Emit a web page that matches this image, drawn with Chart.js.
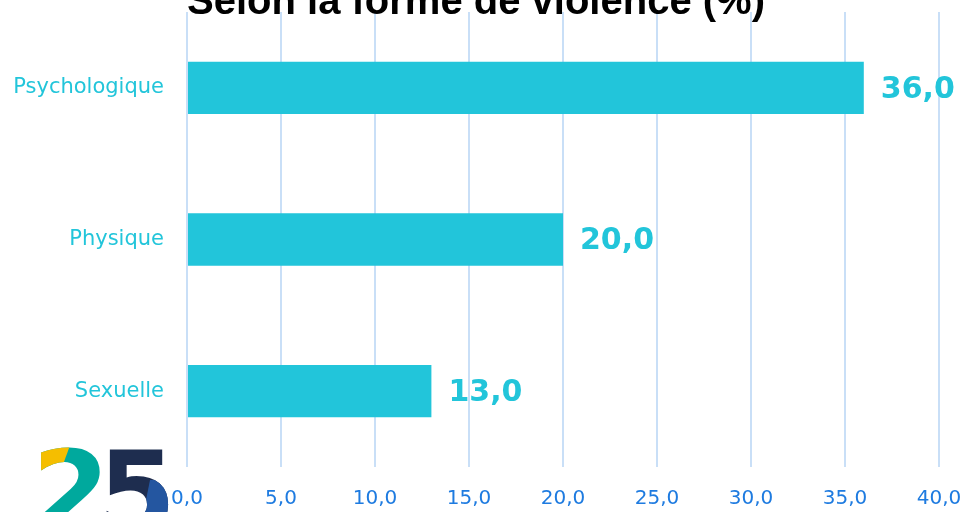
<!DOCTYPE html>
<html>
<head>
<meta charset="utf-8">
<script src="https://cdn.jsdelivr.net/npm/chart.js@4.4.1/dist/chart.umd.min.js"></script>
<style>
  html, body { margin: 0; padding: 0; background: #fff; overflow: hidden; }
  #wrap { width: 1000px; height: 530px; }
</style>
</head>
<body>
<div id="wrap"><canvas id="chart" width="1000" height="530"></canvas></div>
<script>
// données
const categories = ['Psychologique', 'Physique', 'Sexuelle'];
const values = [36.0, 20.0, 13.0];
const xTicks = [0, 5, 10, 15, 20, 25, 30, 35, 40];
const titleText = 'Selon la forme de violence (%)';

const cyan = '#22C5DA';
const tickBlue = '#1E7BE0';
const gridBlue = '#C9DFF7';

const fmt = v => v.toFixed(1).replace('.', ',');

// titre coupé en haut
const titlePlugin = {
  id: 'titre',
  afterDraw(chart) {
    const ctx = chart.ctx;
    ctx.save();
    ctx.font = 'bold 40px "Liberation Sans"';
    ctx.fillStyle = '#000';
    ctx.textAlign = 'center';
    ctx.textBaseline = 'alphabetic';
    ctx.fillText(titleText, 476, 14);
    ctx.restore();
  }
};

// étiquettes de valeurs
const labelsPlugin = {
  id: 'valeurs',
  afterDatasetsDraw(chart) {
    const ctx = chart.ctx;
    const meta = chart.getDatasetMeta(0);
    ctx.save();
    ctx.font = 'bold 30px "DejaVu Sans"';
    ctx.fillStyle = cyan;
    ctx.textAlign = 'left';
    ctx.textBaseline = 'middle';
    meta.data.forEach((bar, i) => {
      ctx.fillText(fmt(values[i]), bar.x + 17, bar.y + 2);
    });
    ctx.restore();
  }
};

// petit logo "25" en bas à gauche (approximation)
const logoPlugin = {
  id: 'logo',
  afterDraw(chart) {
    const ctx = chart.ctx;
    ctx.save();
    ctx.font = 'bold 112px "DejaVu Sans"';
    ctx.textBaseline = 'alphabetic';
    // le 2 : jaune en haut à gauche, vert ailleurs
    ctx.fillStyle = '#00A99D';
    ctx.fillText('2', 32, 531);
    ctx.save();
    ctx.beginPath();
    ctx.moveTo(20, 440); ctx.lineTo(72, 440); ctx.lineTo(50, 500); ctx.lineTo(20, 500);
    ctx.closePath();
    ctx.clip();
    ctx.fillStyle = '#F5BE00';
    ctx.fillText('2', 32, 531);
    ctx.restore();
    // le 5 : bleu nuit, bas droite bleu
    ctx.fillStyle = '#1E2D4F';
    ctx.fillText('5', 98, 531);
    ctx.save();
    ctx.beginPath();
    ctx.moveTo(150, 480); ctx.lineTo(200, 480); ctx.lineTo(200, 530); ctx.lineTo(140, 530);
    ctx.closePath();
    ctx.clip();
    ctx.fillStyle = '#2456A0';
    ctx.fillText('5', 98, 531);
    ctx.restore();
    ctx.restore();
  }
};

new Chart(document.getElementById('chart').getContext('2d'), {
  type: 'bar',
  data: {
    labels: categories,
    datasets: [{
      data: values,
      backgroundColor: cyan,
      borderWidth: 0,
      barPercentage: 0.345,
      categoryPercentage: 1
    }]
  },
  options: {
    indexAxis: 'y',
    responsive: false,
    animation: false,
    layout: { padding: { top: 12, left: 0, right: 61, bottom: 0 } },
    plugins: {
      legend: { display: false },
      tooltip: { enabled: false }
    },
    scales: {
      x: {
        min: 0,
        max: 40,
        afterBuildTicks(scale) {
          scale.ticks = xTicks.map(v => ({ value: v }));
        },
        afterFit(scale) {
          scale.height = 63;
          scale.paddingLeft = 0;
          scale.paddingRight = 0;
        },
        grid: { color: gridBlue, lineWidth: 2, drawTicks: false },
        border: { display: false },
        ticks: {
          color: tickBlue,
          font: { family: 'DejaVu Sans', size: 20 },
          padding: 20,
          maxRotation: 0,
          callback: v => fmt(v)
        }
      },
      y: {
        afterFit(scale) {
          scale.width = 187;
          scale.paddingTop = 0;
          scale.paddingBottom = 0;
        },
        grid: { display: false, drawTicks: false },
        border: { display: false },
        ticks: {
          color: cyan,
          font: { family: 'DejaVu Sans', size: 21 },
          padding: 23
        }
      }
    }
  },
  plugins: [titlePlugin, labelsPlugin, logoPlugin]
});
</script>
</body>
</html>
